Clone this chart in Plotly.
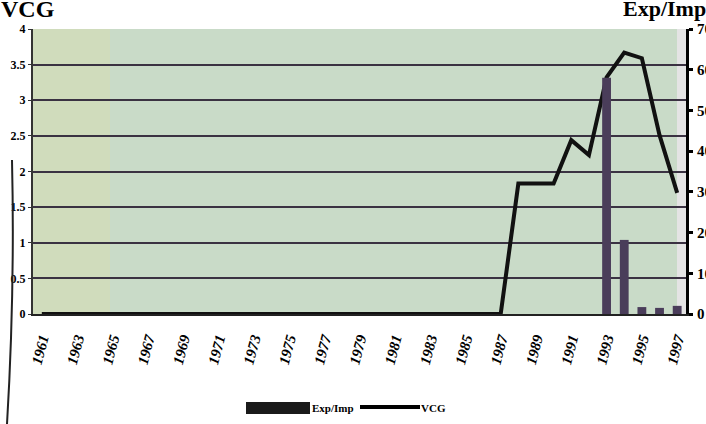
import plotly.graph_objects as go

years = [str(y) for y in range(1961, 1998)]
vcg = [0.0] * 27 + [1.83, 1.83, 1.83, 2.44, 2.23, 3.32, 3.67, 3.59, 2.51, 1.7]
exp_imp = [None] * 32 + [58, 18.2, 1.7, 1.5, 2.0]
left_ticks = [0, 0.5, 1, 1.5, 2, 2.5, 3, 3.5, 4]
left_labels = ["0", "0.5", "1", "1.5", "2", "2.5", "3", "3.5", "4"]
right_ticks = [0, 10, 20, 30, 40, 50, 60, 70]
right_labels = ["0", "10", "20", "30", "40", "50", "60", "70"]

FONT = "Liberation Serif"
W, H = 706, 424
L, T = 33, 29
R = W - 686
B = H - 314
PW, PH = W - L - R, H - T - B


def px(x):
    return (x - L) / PW


def py(y):
    return (H - B - y) / PH


fig = go.Figure()
fig.add_trace(go.Bar(
    x=years, y=exp_imp, name="Exp/Imp", yaxis="y2",
    marker=dict(color="#4a3d5a", line=dict(width=0)),
))
fig.add_trace(go.Scatter(
    x=years, y=vcg, name="VCG", mode="lines",
    line=dict(color="#111111", width=4),
))

fig.update_layout(
    width=W, height=H,
    margin=dict(l=L, r=R, t=T, b=B, autoexpand=False),
    paper_bgcolor="white",
    plot_bgcolor="#c9dbc8",
    bargap=0.5,
    showlegend=False,
    font=dict(family=FONT, color="black"),
    xaxis=dict(
        type="category", tickangle=-75, tickmode="array",
        tickvals=years[::2], ticktext=years[::2], automargin=False,
        tickfont=dict(family=FONT, size=15, color="black", weight="bold", style="italic"),
        showgrid=False, showline=True, linecolor="#222", linewidth=2,
        ticks="outside", ticklen=8, tickcolor="rgba(0,0,0,0)",
    ),
    yaxis=dict(
        range=[0, 4], tickmode="array", tickvals=left_ticks, ticktext=left_labels,
        tickfont=dict(family=FONT, size=12, color="black", weight="bold"),
        showgrid=True, gridcolor="#3a3242", gridwidth=2, automargin=False,
        showline=True, linecolor="#333", linewidth=2,
        ticks="outside", ticklen=3, tickcolor="#333", zeroline=False,
    ),
    yaxis2=dict(
        range=[0, 70], overlaying="y", side="right", tickmode="array",
        tickvals=right_ticks, ticktext=right_labels, automargin=False,
        tickfont=dict(family=FONT, size=15, color="black", weight="bold"),
        showgrid=False, showline=True, linecolor="black", linewidth=3,
        ticks="outside", ticklen=4, tickwidth=3, tickcolor="black", zeroline=False,
        ticklabelstandoff=1,
    ),
    annotations=[
        dict(text="<b>VCG</b>", xref="paper", yref="paper", x=px(-1), y=py(-6),
             xanchor="left", yanchor="top", showarrow=False,
             font=dict(family=FONT, size=24, color="black")),
        dict(text="<b>Exp/Imp</b>", xref="paper", yref="paper", x=px(621), y=py(-6),
             xanchor="left", yanchor="top", showarrow=False,
             font=dict(family=FONT, size=22, color="black")),
        dict(text="<b>Exp/Imp</b>", xref="paper", yref="paper", x=px(310), y=py(408),
             xanchor="left", yanchor="middle", showarrow=False,
             font=dict(family=FONT, size=11, color="black")),
        dict(text="<b>VCG</b>", xref="paper", yref="paper", x=px(419), y=py(408),
             xanchor="left", yanchor="middle", showarrow=False,
             font=dict(family=FONT, size=11, color="black")),
    ],
    shapes=[
        dict(type="rect", xref="paper", yref="paper", x0=0, x1=px(110), y0=0, y1=1,
             fillcolor="#d6dcb4", opacity=0.6, line=dict(width=0), layer="below"),
        dict(type="rect", xref="paper", yref="paper", x0=px(677), x1=1, y0=0, y1=1,
             fillcolor="#e4e4e4", line=dict(width=0), layer="below"),
        # legend swatches
        dict(type="rect", xref="paper", yref="paper", x0=px(246), x1=px(310),
             y0=py(414), y1=py(402), fillcolor="#1a1a1a", line=dict(width=0)),
        dict(type="line", xref="paper", yref="paper", x0=px(360), x1=px(420),
             y0=py(407), y1=py(407), line=dict(color="black", width=4)),
        # scanned page edge
        dict(type="path", xref="paper", yref="paper",
             path=f"M {px(12)},{py(160)} Q {px(15)},{py(290)} {px(7)},{py(424)}",
             line=dict(color="#222", width=2)),
    ],
)

fig.write_html("out.html", config={"displayModeBar": False},
               post_script="document.body.style.margin='0';")
